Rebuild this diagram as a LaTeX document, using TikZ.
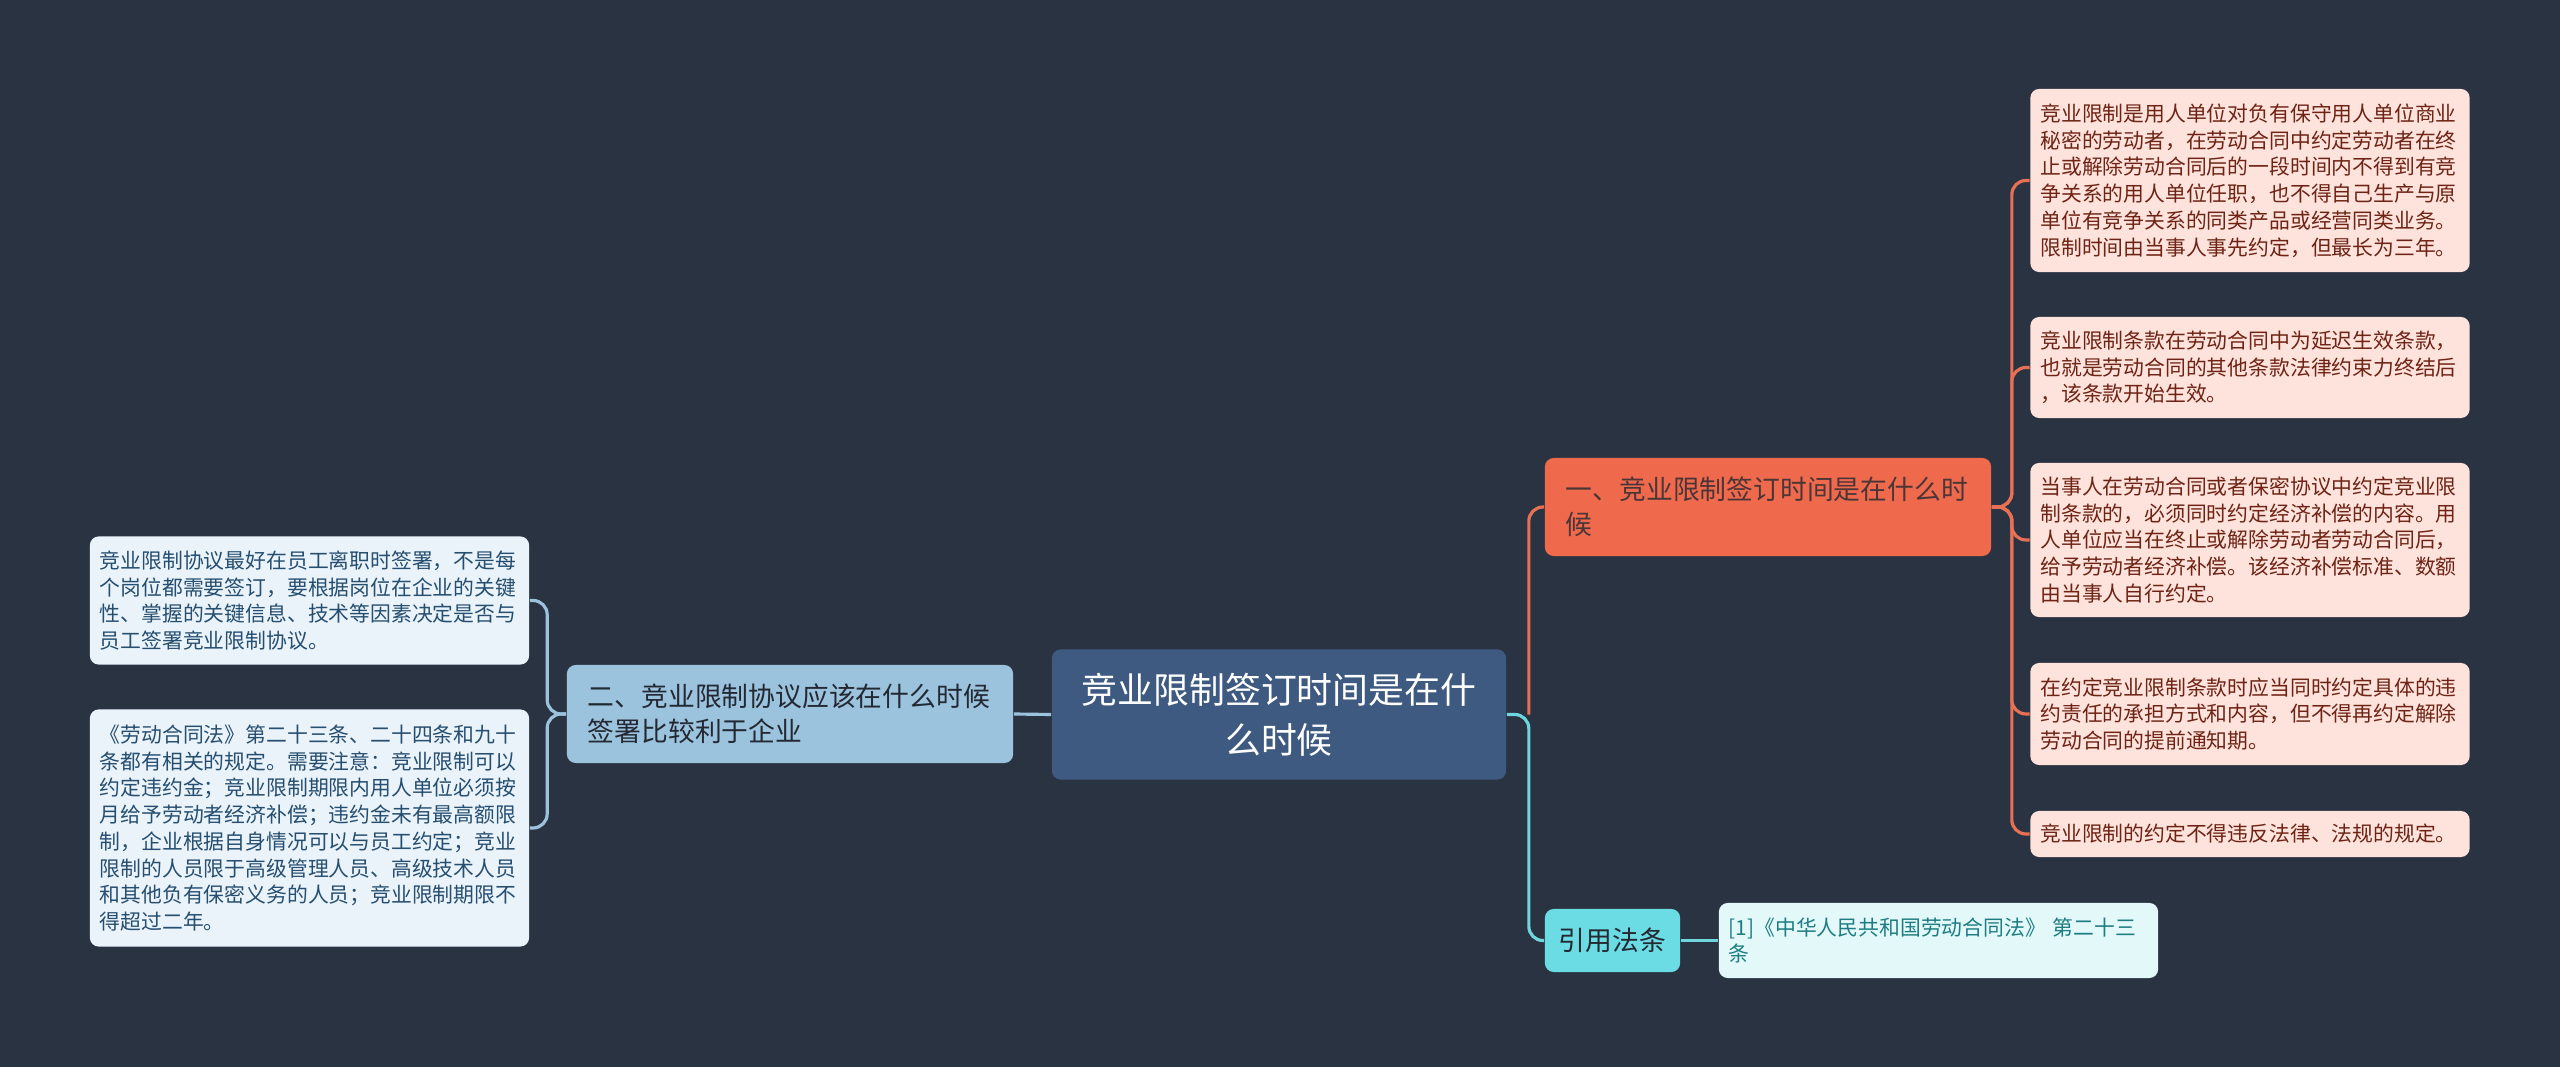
\documentclass[tikz,border=0pt]{standalone}
\usepackage{fontspec}
\newfontfamily\cjk{Noto Sans CJK SC}
\usepackage{tikz}
\usetikzlibrary{calc}
\usepackage{xcolor}
\definecolor{nightbg}{RGB}{42,51,66}
\definecolor{rootblue}{RGB}{62,90,128}
\definecolor{coral}{RGB}{239,106,76}
\definecolor{coralline}{RGB}{232,112,84}
\definecolor{pinkleaf}{RGB}{253,227,220}
\definecolor{pinktext}{RGB}{110,35,20}
\definecolor{skyblue}{RGB}{155,195,221}
\definecolor{paleblue}{RGB}{234,243,249}
\definecolor{bluetext}{RGB}{38,78,112}
\definecolor{aqua}{RGB}{108,220,228}
\definecolor{aqualine}{RGB}{112,214,222}
\definecolor{paleaqua}{RGB}{226,248,249}
\definecolor{tealtext}{RGB}{30,125,130}
\definecolor{inkdark}{RGB}{35,40,50}

\tikzset{
  box/.style={rounded corners=2.5pt, inner ysep=0pt},
  rootbox/.style={box, fill=rootblue, text=white, align=center,
    text width=3.98cm, inner xsep=0.28cm, minimum height=1.30cm,
    font=\cjk\fontsize{10.2pt}{14.2pt}\selectfont},
  topicbox/.style={box, text=inkdark, align=left,
    text width=4.04cm, inner xsep=0.21cm, minimum height=0.98cm,
    font=\cjk\fontsize{7.62pt}{10pt}\selectfont},
  leafbox/.style={box, align=left, text width=4.19cm, inner xsep=0.10cm,
    font=\cjk\fontsize{5.92pt}{7.6pt}\selectfont},
  rightleaf/.style={leafbox, fill=pinkleaf, text=pinktext},
  leftleaf/.style={leafbox, fill=paleblue, text=bluetext},
  wire/.style={line width=0.9pt, rounded corners=4pt}
}

\begin{document}
\begin{tikzpicture}[x=0.01cm, y=-0.01cm]
  % Background
  \fill[nightbg] (0,0) rectangle (2560,1067);
  \useasboundingbox (0,0) rectangle (2560,1067);

  % Root
  \node[rootbox] (root) at (1279,714.5) {竞业限制签订时间是在什\\么时候};

  % Main topics
  \node[topicbox, fill=coral, text=inkdark!80!coral] (one) at (1768,507)
    {一、竞业限制签订时间是在什么时\\候};
  \node[topicbox, fill=skyblue] (two) at (790,714)
    {二、竞业限制协议应该在什么时候\\签署比较利于企业};
  \node[box, fill=aqua, text=inkdark, inner xsep=0.14cm, minimum height=0.63cm,
    font=\cjk\fontsize{7.62pt}{10pt}\selectfont] (cite) at (1612.5,940.5) {引用法条};

  % Right leaves
  \node[rightleaf, minimum height=1.83cm] (r1) at (2250,180.5)
    {竞业限制是用人单位对负有保守用人单位商业\\
     秘密的劳动者，在劳动合同中约定劳动者在终\\
     止或解除劳动合同后的一段时间内不得到有竞\\
     争关系的用人单位任职，也不得自己生产与原\\
     单位有竞争关系的同类产品或经营同类业务。\\
     限制时间由当事人事先约定，但最长为三年。};
  \node[rightleaf, minimum height=1.01cm] (r2) at (2250,367.5)
    {竞业限制条款在劳动合同中为延迟生效条款，\\
     也就是劳动合同的其他条款法律约束力终结后\\
     ，该条款开始生效。};
  \node[rightleaf, minimum height=1.54cm] (r3) at (2250,540)
    {当事人在劳动合同或者保密协议中约定竞业限\\
     制条款的，必须同时约定经济补偿的内容。用\\
     人单位应当在终止或解除劳动者劳动合同后，\\
     给予劳动者经济补偿。该经济补偿标准、数额\\
     由当事人自行约定。};
  \node[rightleaf, minimum height=1.02cm] (r4) at (2250,714)
    {在约定竞业限制条款时应当同时约定具体的违\\
     约责任的承担方式和内容，但不得再约定解除\\
     劳动合同的提前通知期。};
  \node[rightleaf, minimum height=0.46cm] (r5) at (2250,834)
    {竞业限制的约定不得违反法律、法规的规定。};

  % Left leaves
  \node[leftleaf, minimum height=1.28cm] (l1) at (309.5,600.5)
    {竞业限制协议最好在员工离职时签署，不是每\\
     个岗位都需要签订，要根据岗位在企业的关键\\
     性、掌握的关键信息、技术等因素决定是否与\\
     员工签署竞业限制协议。};
  \node[leftleaf, minimum height=2.37cm] (l2) at (309.5,828)
    {《劳动合同法》第二十三条、二十四条和九十\\
     条都有相关的规定。需要注意：竞业限制可以\\
     约定违约金；竞业限制期限内用人单位必须按\\
     月给予劳动者经济补偿；违约金未有最高额限\\
     制，企业根据自身情况可以与员工约定；竞业\\
     限制的人员限于高级管理人员、高级技术人员\\
     和其他负有保密义务的人员；竞业限制期限不\\
     得超过二年。};

  % Reference leaf
  \node[leafbox, fill=paleaqua, text=tealtext, minimum height=0.75cm] (ref) at (1938.5,940.5)
    {[1]《中华人民共和国劳动合同法》 第二十三\\条};

  % Junctions
  \coordinate (jr) at ($(root.east)+(22,0)$);
  \coordinate (j1) at ($(one.east)+(20,0)$);
  \coordinate (j2) at ($(two.west)+(-19,0)$);

  % Connectors
  \draw[wire, coralline] (jr) |- (one.west);
  \draw[wire, aqualine] (root.east) -- (jr) |- (cite.west);
  \draw[wire, aqualine] (cite.east) -- (ref.west);
  \foreach \n in {r1,r2,r3,r4,r5}
    \draw[wire, coralline] (one.east) -- (j1) |- (\n.west);
  \draw[wire, skyblue] (root.west) -- (two.east);
  \foreach \n in {l1,l2}
    \draw[wire, skyblue] (two.west) -- (j2) |- (\n.east);
\end{tikzpicture}
\end{document}
